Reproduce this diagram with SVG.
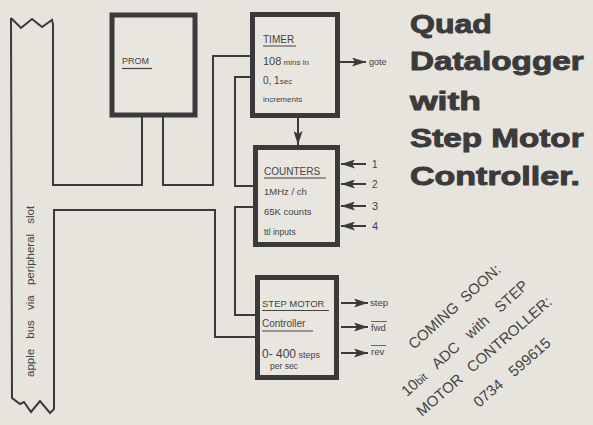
<svg xmlns="http://www.w3.org/2000/svg" width="593" height="425" viewBox="0 0 593 425">
<defs>
<style>
.bg{fill:#e7e3dd}
.box{fill:#e9e5df;stroke:#3a3a3a;stroke-width:5}
.ln{fill:none;stroke:#3a3a3a;stroke-width:2;stroke-linejoin:miter}
.t{font-family:"Liberation Sans",Arial,sans-serif;fill:#444}
.title{font-family:"Liberation Sans",Arial,sans-serif;font-weight:bold;font-size:25px;fill:#3b3b3b;stroke:#3b3b3b;stroke-width:0.9}
.ul{stroke:#444;stroke-width:1.2}
.ah{fill:#3a3a3a}
</style>
<marker id="arrb" viewBox="0 0 14 9" refX="14" refY="4.5" markerWidth="14" markerHeight="9" markerUnits="userSpaceOnUse" orient="auto">
<path d="M0,0 L14,4.5 L0,9 L3,4.5 Z" class="ah"/>
</marker>
</defs>
<rect class="bg" x="0" y="0" width="593" height="425"/>

<g id="connectors">
<path class="ln" d="M11,18 L21,28 L32,19 L42,27 L52,20 L53,24 L53,185 L142,185 L142,117"/>
<path class="ln" d="M163,117 L163,185 L213,185 L213,56 L251,56"/>
<path class="ln" d="M251,77 L235,77 L235,186 L254,186"/>
<path class="ln" d="M11,18 L12,398 L20,404 L24,402 L31,412 L40,401 L50,413 L54,409 L54,210 L215,210 L215,337 L256,337"/>
<path class="ln" d="M254,207 L235,207 L235,315 L256,315"/>
<line class="ln" x1="340" y1="62" x2="366" y2="62" marker-end="url(#arrb)"/>
<line class="ln" x1="298" y1="117" x2="298" y2="145" marker-end="url(#arrb)"/>
<line class="ln" x1="366" y1="164" x2="341" y2="164" marker-end="url(#arrb)"/>
<line class="ln" x1="366" y1="184" x2="341" y2="184" marker-end="url(#arrb)"/>
<line class="ln" x1="366" y1="206" x2="341" y2="206" marker-end="url(#arrb)"/>
<line class="ln" x1="366" y1="226" x2="341" y2="226" marker-end="url(#arrb)"/>
<line class="ln" x1="341" y1="303" x2="368" y2="303" marker-end="url(#arrb)"/>
<line class="ln" x1="341" y1="327" x2="368" y2="327" marker-end="url(#arrb)"/>
<line class="ln" x1="341" y1="353" x2="368" y2="353" marker-end="url(#arrb)"/>
</g>

<g id="bus">
<text class="t" font-size="11.5" word-spacing="7" transform="translate(34,377) rotate(-90)">apple bus via peripheral slot</text>
</g>

<g id="prom">
<rect class="box" x="112" y="15" width="83" height="100" stroke-width="4"/>
<text class="t" x="122" y="64" font-size="9" fill="#555">PROM</text>
<line class="ul" x1="122" y1="68.5" x2="152" y2="68.5"/>
</g>

<g id="timer">
<rect class="box" x="252.5" y="14.5" width="85" height="101"/>
<text class="t" x="263" y="43" font-size="10">TIMER</text>
<line class="ul" x1="263" y1="46" x2="296" y2="46"/>
<text class="t" x="263" y="65" font-size="11">108<tspan font-size="8"> mins  in</tspan></text>
<text class="t" x="263" y="84" font-size="10">0, 1<tspan font-size="8">sec</tspan></text>
<text class="t" x="263" y="102" font-size="8">increments</text>
<text class="t" x="369" y="65" font-size="9">gote</text>
</g>

<g id="counters">
<rect class="box" x="255.5" y="147.5" width="82" height="97"/>
<text class="t" x="264" y="175" font-size="10">COUNTERS</text>
<line class="ul" x1="264" y1="178" x2="326" y2="178"/>
<text class="t" x="264" y="195" font-size="9.5">1MHz / ch</text>
<text class="t" x="264" y="215" font-size="9.5">65K counts</text>
<text class="t" x="264" y="235" font-size="8.5">ttl  inputs</text>
<text class="t" x="372" y="168" font-size="10">1</text>
<text class="t" x="372" y="188" font-size="10">2</text>
<text class="t" x="372" y="210" font-size="11">3</text>
<text class="t" x="372" y="230" font-size="11">4</text>
</g>

<g id="stepmotor">
<rect class="box" x="257.5" y="277.5" width="79" height="100"/>
<text class="t" x="262" y="307" font-size="9.5">STEP MOTOR</text>
<line class="ul" x1="262" y1="310.5" x2="329" y2="310.5"/>
<text class="t" x="262" y="327" font-size="10">Controller</text>
<line class="ul" x1="262" y1="331" x2="313" y2="331"/>
<text class="t" x="262" y="358" font-size="12">0- 400<tspan font-size="9"> steps</tspan></text>
<text class="t" x="270" y="369" font-size="8.5">per  sec</text>
<text class="t" x="370" y="306" font-size="9.5" fill="#555">step</text>
<text class="t" x="371" y="331" font-size="9.5" fill="#666">fwd</text>
<line stroke="#666" stroke-width="1" x1="371" y1="321.5" x2="387" y2="321.5"/>
<text class="t" x="371" y="355" font-size="9.5" fill="#666">rev</text>
<line stroke="#666" stroke-width="1" x1="371" y1="345.5" x2="386" y2="345.5"/>
</g>

<g id="title">
<text class="title" transform="translate(410,33) scale(1.28,1)">Quad</text>
<text class="title" transform="translate(410,70) scale(1.33,1)">Datalogger</text>
<text class="title" transform="translate(410,110) scale(1.42,1)">with</text>
<text class="title" transform="translate(410,147) scale(1.33,1)">Step Motor</text>
<text class="title" transform="translate(410,185) scale(1.36,1)">Controller.</text>
</g>

<g id="notice" class="t" font-size="15" fill="#4a4a4a">
<text transform="translate(414,350) rotate(-42)" word-spacing="4">COMING SOON:</text>
<text transform="translate(407,397) rotate(-42)" word-spacing="9">10<tspan font-size="11">bit</tspan> ADC with STEP</text>
<text transform="translate(422,417) rotate(-41)" word-spacing="7">MOTOR CONTROLLER:</text>
<text transform="translate(479,408) rotate(-41)" word-spacing="9">0734 599615</text>
</g>
</svg>
